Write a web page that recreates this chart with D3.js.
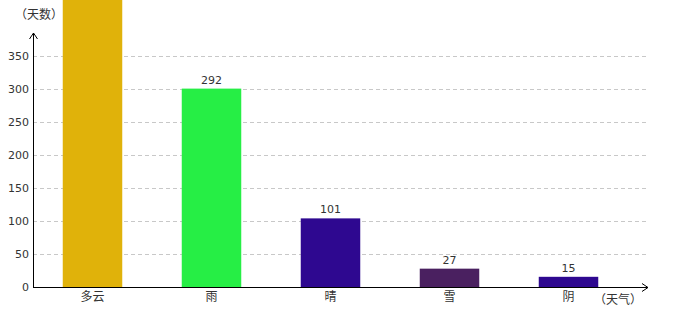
<!DOCTYPE html>
<html>
<head>
<meta charset="utf-8">
<script src="https://cdn.jsdelivr.net/npm/d3@7.9.0/dist/d3.min.js"></script>
<style>
  body { margin: 0; background: #fff; }
  svg { display: block; }
</style>
</head>
<body>
<svg></svg>
<script>
const categories = ["多云", "雨", "晴", "雪", "阴"];
const days = [450, 292, 101, 27, 15];
const barColors = ["#e0b20a", "#26ee45", "#2e0890", "#4a2060", "#2e0890"];
const tickValues = [0, 50, 100, 150, 200, 250, 300, 350];

const width = 680;
const height = 320;

const svg = d3.select("svg")
    .attr("width", width)
    .attr("height", height);

const x0 = 33, x1 = 628, axisEnd = 648;
const yBase = 287, yTop = 56;

const x = d3.scaleBand()
    .domain(categories)
    .range([x0, x1])
    .paddingInner(0.5)
    .paddingOuter(0.25);

// axis scale
const y = d3.scaleLinear()
    .domain([0, 350])
    .range([yBase, yTop]);

// bars in the original are drawn slightly taller than the axis says
const yBar = d3.scaleLinear()
    .domain([0, 340])
    .range([yBase, yTop]);

// grid lines
svg.selectAll(".grid")
    .data(tickValues.filter(d => d > 0))
    .enter().append("line")
    .attr("x1", x0)
    .attr("x2", axisEnd)
    .attr("y1", d => Math.round(y(d)) + 0.5)
    .attr("y2", d => Math.round(y(d)) + 0.5)
    .attr("stroke", "#c8c8c8")
    .attr("stroke-dasharray", "4,3");

// bars
svg.selectAll(".bar")
    .data(days)
    .enter().append("rect")
    .attr("x", (d, i) => x(categories[i]))
    .attr("width", x.bandwidth())
    .attr("y", d => Math.max(0, yBar(d)))
    .attr("height", d => yBase - Math.max(0, yBar(d)))
    .attr("fill", (d, i) => barColors[i]);

// value labels (the one above the top edge falls off the canvas, like the original)
svg.selectAll(".val")
    .data(days.map((d, i) => ({ v: d, c: categories[i] })).filter(d => yBar(d.v) - 5 > 10))
    .enter().append("text")
    .attr("x", d => x(d.c) + x.bandwidth() / 2)
    .attr("y", d => yBar(d.v) - 5)
    .attr("text-anchor", "middle")
    .attr("font-family", "DejaVu Sans, sans-serif")
    .attr("font-size", 11)
    .attr("fill", "#333")
    .text(d => d.v);

// y tick labels
svg.selectAll(".ytick")
    .data(tickValues)
    .enter().append("text")
    .attr("x", 29)
    .attr("y", d => y(d) + 4)
    .attr("text-anchor", "end")
    .attr("font-family", "DejaVu Sans, sans-serif")
    .attr("font-size", 11)
    .attr("fill", "#333")
    .text(d => d);

// category labels
svg.selectAll(".xcat")
    .data(categories)
    .enter().append("text")
    .attr("x", d => x(d) + x.bandwidth() / 2)
    .attr("y", 301)
    .attr("text-anchor", "middle")
    .attr("font-family", "Noto Sans CJK SC, sans-serif")
    .attr("font-size", 12)
    .attr("fill", "#333")
    .text(d => d);

// axes with arrows
svg.append("line")
    .attr("x1", x0 + 0.5).attr("x2", x0 + 0.5)
    .attr("y1", yBase).attr("y2", 33)
    .attr("stroke", "#000");
svg.append("path")
    .attr("d", `M${x0 - 3.5},${39} L${x0 + 0.5},${33} L${x0 + 4.5},${39}`)
    .attr("fill", "none")
    .attr("stroke", "#000");

svg.append("line")
    .attr("x1", x0).attr("x2", axisEnd)
    .attr("y1", yBase + 0.5).attr("y2", yBase + 0.5)
    .attr("stroke", "#000");
svg.append("path")
    .attr("d", `M${axisEnd - 6},${yBase - 3.5} L${axisEnd},${yBase + 0.5} L${axisEnd - 6},${yBase + 4.5}`)
    .attr("fill", "none")
    .attr("stroke", "#000");

// axis titles
svg.append("text")
    .attr("x", 15)
    .attr("y", 19)
    .attr("font-family", "Noto Sans CJK SC, sans-serif")
    .attr("font-size", 12)
    .attr("fill", "#333")
    .text("（天数）");

svg.append("text")
    .attr("x", 594)
    .attr("y", 304)
    .attr("font-family", "Noto Sans CJK SC, sans-serif")
    .attr("font-size", 12)
    .attr("fill", "#333")
    .text("（天气）");
</script>
</body>
</html>
